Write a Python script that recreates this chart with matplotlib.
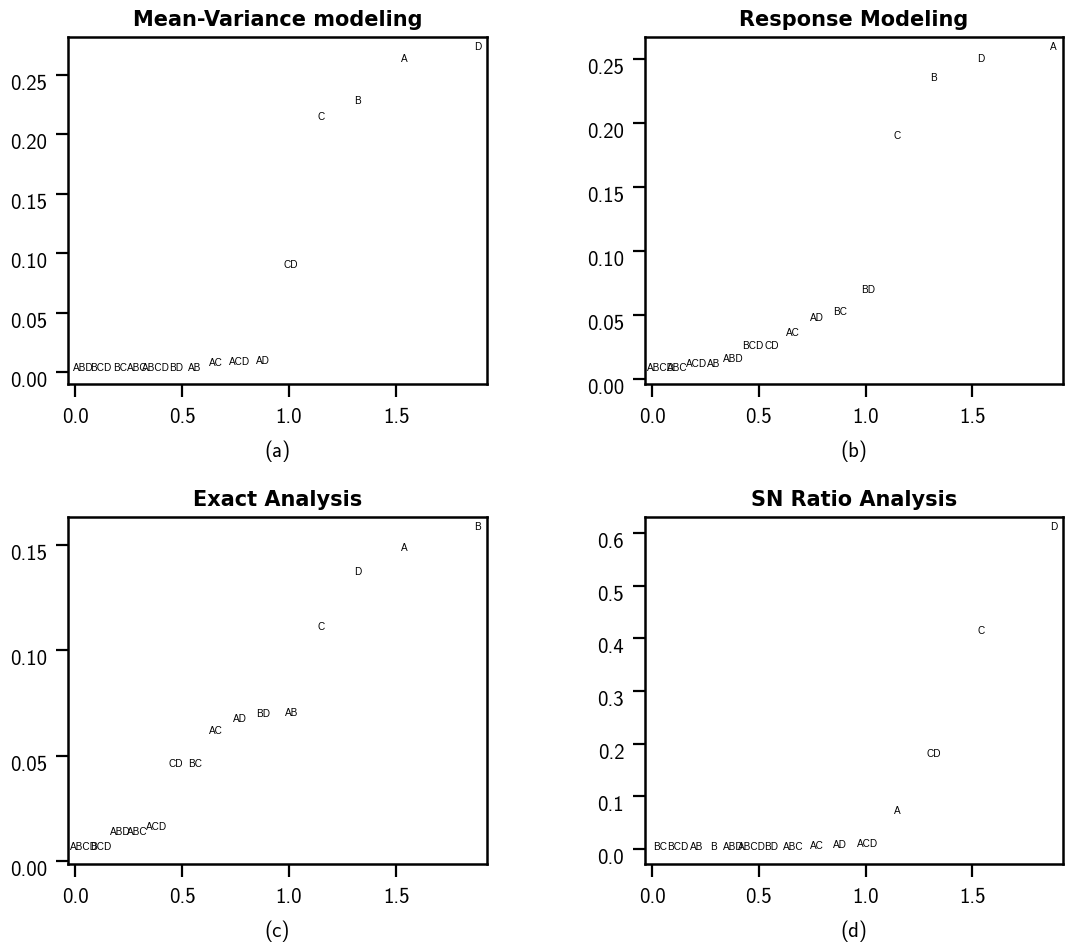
import matplotlib.pyplot as plt

# half-normal scores shared by the four panels
x_pos = [0.04, 0.12, 0.21, 0.29, 0.38, 0.47, 0.56, 0.66, 0.77, 0.88, 1.01, 1.15, 1.32, 1.54, 1.88]

labels_a = ["ABD", "BCD", "BC", "ABC", "ABCD", "BD", "AB", "AC", "ACD", "AD", "CD", "C", "B", "A", "D"]
values_a = [0.0034, 0.0034, 0.0034, 0.0034, 0.0035, 0.0036, 0.0036, 0.0076, 0.0084, 0.0093,
            0.090, 0.2146, 0.228, 0.2635, 0.2736]

labels_b = ["ABCD", "ABC", "ACD", "AB", "ABD", "BCD", "CD", "AC", "AD", "BC", "BD", "C", "B", "D", "A"]
values_b = [0.0086, 0.0087, 0.0117, 0.0118, 0.0156, 0.0258, 0.0259, 0.0359, 0.0477, 0.0523,
            0.0695, 0.1898, 0.2352, 0.250, 0.2594]

labels_c = ["ABCD", "BCD", "ABD", "ABC", "ACD", "CD", "BC", "AC", "AD", "BD", "AB", "C", "D", "A", "B"]
values_c = [0.0066, 0.0067, 0.0138, 0.0139, 0.0161, 0.0460, 0.0461, 0.0617, 0.0674, 0.0698,
            0.0702, 0.1111, 0.1372, 0.1486, 0.1585]

labels_d = ["BC", "BCD", "AB", "B", "ABD", "ABCD", "BD", "ABC", "AC", "AD", "ACD", "A", "CD", "C", "D"]
values_d = [0.0038, 0.0038, 0.0038, 0.0038, 0.0039, 0.0039, 0.0039, 0.0040, 0.0057, 0.0076,
            0.0095, 0.072, 0.180, 0.4137, 0.611]

titles = ["Mean-Variance modeling", "Response Modeling", "Exact Analysis", "SN Ratio Analysis"]
captions = ["(a)", "(b)", "(c)", "(d)"]

x_ticks = [0.0, 0.5, 1.0, 1.5]
y_ticks_ab = [0.00, 0.05, 0.10, 0.15, 0.20, 0.25]
y_ticks_c = [0.00, 0.05, 0.10, 0.15]
y_ticks_d = [0.0, 0.1, 0.2, 0.3, 0.4, 0.5, 0.6]

x_lim = (-0.033, 1.925)
y_lim_a = (-0.0101, 0.2820)
y_lim_b = (-0.0039, 0.2672)
y_lim_c = (-0.0014, 0.1633)
y_lim_d = (-0.0285, 0.6300)

TICK_FONT = "cmss10"
TITLE_FONT = "DejaVu Sans"
LABEL_FONT = "Liberation Sans"


def halfnormal_panel(ax, labels, values, y_ticks, y_lim, fmt, title, caption):
    for x, y, lab in zip(x_pos, values, labels):
        ax.text(x, y, lab, ha="center", va="center", fontsize=7.2,
                family=LABEL_FONT, color="black")
    ax.set_xlim(*x_lim)
    ax.set_ylim(*y_lim)

    ax.set_xticks(x_ticks, labels=["%.1f" % t for t in x_ticks],
                  family=TICK_FONT, fontsize=15)
    ax.set_yticks(y_ticks, labels=[fmt % t for t in y_ticks],
                  family=TICK_FONT, fontsize=15, va="top")
    ax.tick_params(direction="out", length=9, width=1.6, pad=6)
    ax.tick_params(axis="x", pad=8)
    for s in ax.spines.values():
        s.set_linewidth(1.8)

    ax.set_title(title, fontsize=15, fontweight="bold", family=TITLE_FONT, pad=8)
    ax.set_xlabel(caption, family=TICK_FONT, fontsize=15, labelpad=10)


fig = plt.figure(figsize=(10.65, 9.49), dpi=100)
W, H = 1065.0, 949.0

rects = [
    (68 / W, 1 - 384 / H, 419 / W, 347 / H),
    (645 / W, 1 - 384 / H, 418 / W, 347 / H),
    (68 / W, 1 - 864 / H, 419 / W, 347 / H),
    (645 / W, 1 - 864 / H, 418 / W, 347 / H),
]

panels = [
    (labels_a, values_a, y_ticks_ab, y_lim_a, "%.2f"),
    (labels_b, values_b, y_ticks_ab, y_lim_b, "%.2f"),
    (labels_c, values_c, y_ticks_c, y_lim_c, "%.2f"),
    (labels_d, values_d, y_ticks_d, y_lim_d, "%.1f"),
]

for rect, (labs, vals, yt, yl, fmt), title, cap in zip(rects, panels, titles, captions):
    ax = fig.add_axes(rect)
    halfnormal_panel(ax, labs, vals, yt, yl, fmt, title, cap)

fig.savefig("out.png", dpi=100)
